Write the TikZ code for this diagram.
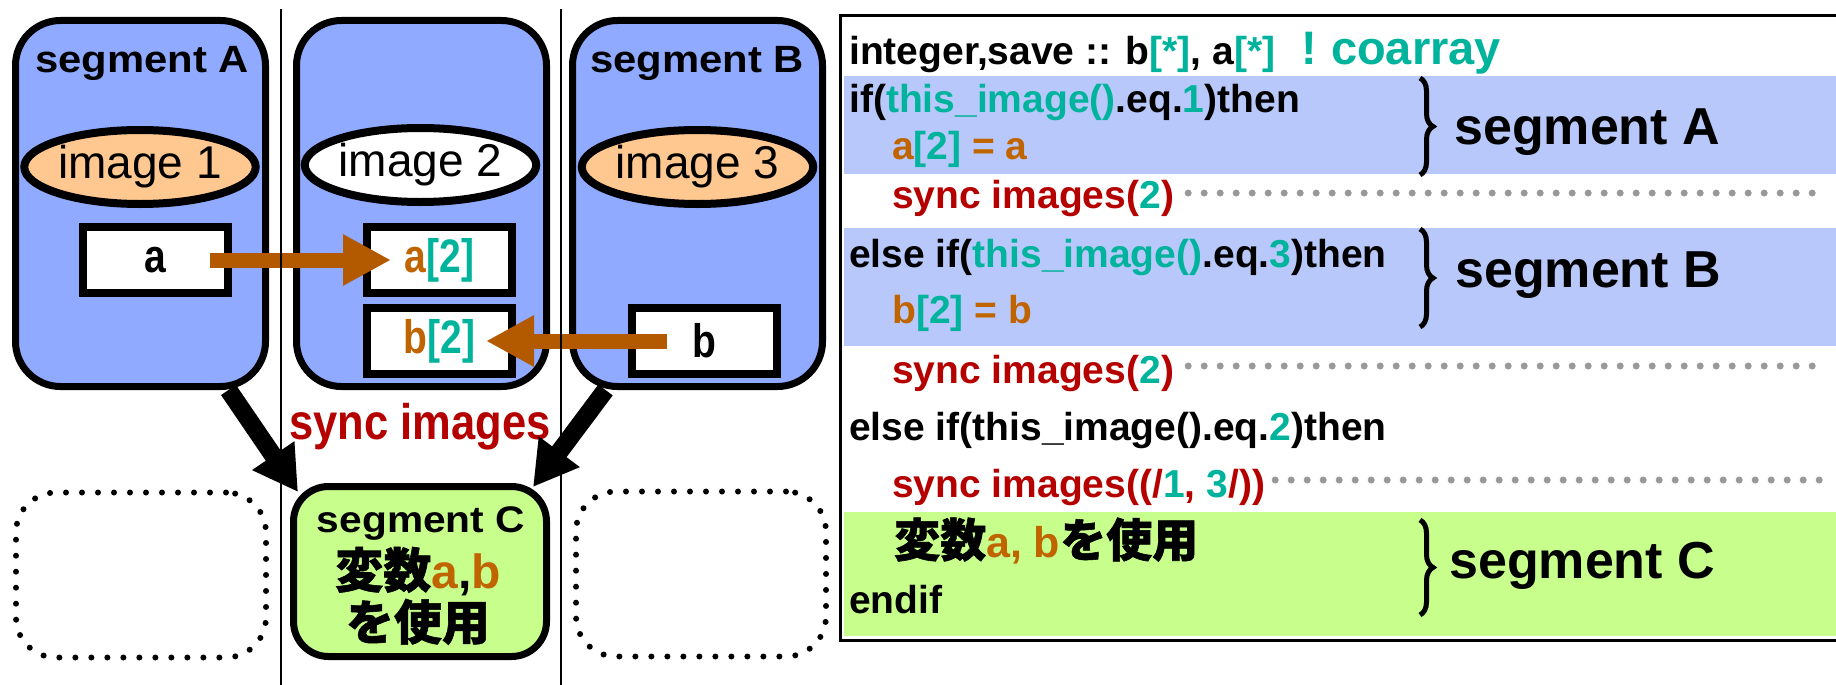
\documentclass[tikz,border=0pt]{standalone}
\usepackage{fontspec}
\setmainfont{Liberation Sans}
\newfontfamily\cjk{Noto Sans CJK JP}[BoldFeatures={FakeBold=1.2}]
\usepackage{graphicx}
\usetikzlibrary{arrows.meta,shapes.geometric,decorations.pathreplacing}
\definecolor{segblue}{HTML}{8FAAFF}
\definecolor{bandblue}{HTML}{B8C8FA}
\definecolor{segCgreen}{HTML}{C8FF8C}
\definecolor{peach}{HTML}{FFC891}
\definecolor{codeteal}{HTML}{00B39C}
\definecolor{syncred}{HTML}{B50000}
\definecolor{varbrown}{HTML}{C06400}
\definecolor{arrbrown}{HTML}{B35900}
\definecolor{dotgray}{HTML}{999999}
\newcommand\colT[1]{\textcolor{codeteal}{#1}}
\newcommand\colR[1]{\textcolor{syncred}{#1}}
\newcommand\colB[1]{\textcolor{varbrown}{#1}}
\newcommand\sx[2]{\scalebox{#1}[1]{#2}}
\newcommand\fsz[1]{\fontsize{#1}{#1}\selectfont}
\tikzset{seg/.style={draw, line width=7pt, fill=segblue, rounded corners=45pt, minimum width=250pt, minimum height=366pt, inner sep=0pt},
  seghead/.style={anchor=base, inner sep=0pt, font=\fsz{38}\bfseries},
  imgell/.style={ellipse, draw, line width=8pt, minimum width=222pt, minimum height=74pt, inner sep=0pt, font=\fsz{46}},
  varbox/.style={draw, line width=8pt, fill=white, minimum width=145pt, minimum height=66pt, inner sep=0pt, font=\fsz{47}\bfseries},
  movearrow/.style={arrbrown, line width=15pt, -{Triangle[length=48pt,width=48pt]}},
  syncarrow/.style={line width=18pt, -{Triangle[length=44pt,width=48pt]}},
  dotbox/.style={draw, line width=6pt, line cap=round, dash pattern=on 0pt off 16pt, rounded corners=40pt, minimum width=250pt, minimum height=165pt},
  codeline/.style={anchor=base west, inner sep=0pt, font=\fsz{39}\bfseries},
  dotline/.style={dotgray, line width=7pt, line cap=round, dash pattern=on 0pt off 16pt},
  bracket/.style={decorate, decoration={brace, amplitude=13pt}, line width=5pt},
  bracelabel/.style={anchor=base west, inner sep=0pt, font=\fsz{52}\bfseries}}
\begin{document}
\begin{tikzpicture}[x=1pt,y=-1pt]
\useasboundingbox (0,0) rectangle (1836,685);
\node[seg] (segA) at (140.5,203.5) {};
\node[seg] (segM) at (421.5,203.5) {};
\node[seg] (segB) at (697.5,203.5) {};
\node[seghead] (titleA) at (142,72) {\sx{1.1}{segment A}};
\node[seghead] (titleB) at (697,72) {\sx{1.1}{segment B}};
\node[imgell, fill=peach] (img1) at (140,167) {image 1};
\node[imgell, fill=white] (img2) at (420.5,165) {image 2};
\node[imgell, fill=peach] (img3) at (697.5,167) {image 3};
\node[varbox] (va) at (155,260) {\sx{0.83}{a}};
\node[varbox] (va2) at (439.5,260) {\sx{0.83}{\colB{a}\colT{[2]}}};
\node[varbox] (vb2) at (439.5,341) {\sx{0.83}{\colB{b}\colT{[2]}}};
\node[varbox] (vb) at (704.5,341) {\sx{0.83}{b}};
\draw[movearrow] ([xshift=-22pt]va.east) -- ([xshift=28pt]va2.west);
\draw[movearrow] ([xshift=39pt]vb.west) -- ([xshift=-30pt]vb2.east);
\node[anchor=base, inner sep=0pt, font=\fsz{50}\bfseries, text=syncred] (sync) at (420,439) {\sx{0.87}{sync images}};
\node[draw, line width=7pt, fill=segCgreen, rounded corners=35pt, minimum width=253pt, minimum height=170pt] (segC) at (420,571.5) {};
\node[anchor=base, inner sep=0pt, font=\fsz{37}\bfseries] (titleC) at (421,532) {\sx{1.1}{segment C}};
\node[anchor=base, inner sep=0pt, font=\fsz{48}\bfseries] (useA) at (418,588) {{\cjk 変数}\colB{a},\colB{b}};
\node[anchor=base, inner sep=0pt, font=\fsz{48}\bfseries] (useB) at (418,640) {\cjk を使用};
\node[dotbox] (idle1) at (141,575) {};
\node[dotbox] (idle3) at (701,574) {};
\draw[syncarrow] ([xshift=88pt]segA.south) -- ([shift={(8pt,-9pt)}]segC.north west);
\draw[syncarrow] ([xshift=-92pt]segB.south) -- ([shift={(-17pt,-4pt)}]segC.north east);
\draw[line width=2.5pt] (281,9) -- (281,685);
\draw[line width=2.5pt] (561,9) -- (561,685);
% source listing
\fill[bandblue] (844,76) rectangle (1836,174);
\fill[bandblue] (844,228) rectangle (1836,346);
\fill[segCgreen] (844,512) rectangle (1836,636);
\draw[line width=3pt] (840.5,16) rectangle (1850,640.5);
\node[codeline] (decl) at (849,65) {integer,save :: b\colT{[*]}, a\colT{[*]}\hspace{26pt}\colT{\fsz{47}!\hspace{14pt}coarray}};
\node[codeline] (ifA) at (849,112) {if(\colT{this\_image()}.eq.\colT{1})then};
\node[codeline] (putA) at (892,159) {\colB{a}\colT{[2]} \colB{= a}};
\node[codeline] (syncA) at (892,208) {\colR{sync images(}\colT{2}\colR{)}};
\node[codeline] (ifB) at (849,267) {else if(\colT{this\_image()}.eq.\colT{3})then};
\node[codeline] (putB) at (892,323) {\colB{b}\colT{[2]} \colB{= b}};
\node[codeline] (syncB) at (892,383) {\colR{sync images(}\colT{2}\colR{)}};
\node[codeline] (ifC) at (849,440) {else if(this\_image().eq.\colT{2})then};
\node[codeline] (syncC) at (892,497) {\colR{sync images((/}\colT{1}\colR{, }\colT{3}\colR{/))}};
\node[codeline] (useC) at (894,557) {{\cjk\fsz{46}変数}\colB{\fsz{43}a, b}{\cjk\fsz{46}を使用}};
\node[codeline] (endC) at (849,613) {endif};
\coordinate (endA) at (1813,193);
\coordinate (endB) at (1813,366);
\coordinate (endC') at (1824,480);
\draw[dotline] ([shift={(14pt,15pt)}]syncA.base east) -- (endA);
\draw[dotline] ([shift={(14pt,17pt)}]syncB.base east) -- (endB);
\draw[dotline] ([shift={(10pt,17pt)}]syncC.base east) -- (endC');
\draw[bracket] (1420,78) -- (1420,175);
\draw[bracket] (1420,229) -- (1420,327);
\draw[bracket] (1420,520) -- (1420,615);
\node[bracelabel] (labA) at (1454,144) {segment A};
\node[bracelabel] (labB) at (1455,287) {segment B};
\node[bracelabel] (labC) at (1449,578) {segment C};
\end{tikzpicture}
\end{document}
